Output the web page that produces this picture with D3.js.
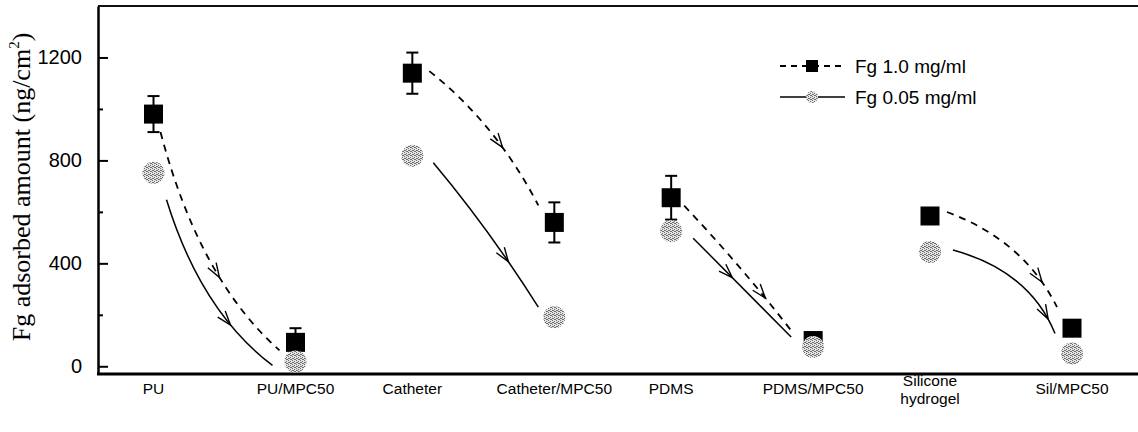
<!DOCTYPE html>
<html>
<head>
<meta charset="utf-8">
<script src="https://cdn.jsdelivr.net/npm/d3@7"></script>
<style>
  html, body { margin: 0; padding: 0; background: #fff; }
  svg { display: block; }
</style>
</head>
<body>
<svg id="chart" width="1138" height="432"></svg>
<script>
// Fibrinogen adsorption on untreated and MPC-treated surfaces
const categories = ["PU", "PU/MPC50", "Catheter", "Catheter/MPC50", "PDMS", "PDMS/MPC50", "Silicone\nhydrogel", "Sil/MPC50"];
const groups = ["PU", "Catheter", "PDMS", "Silicone"];
const fgHigh = [980, 93, 1139, 559, 655, 100, 584, 148];      // Fg 1.0 mg/ml
const fgHighErr = [70, 55, 80, 78, 85, 30, 0, 0];
const fgLow = [752, 19, 818, 191, 525, 75, 444, 50];           // Fg 0.05 mg/ml
const yTicks = [0, 400, 800, 1200];
const yMinorTicks = [200, 600, 1000];
const seriesNames = ["Fg 1.0 mg/ml", "Fg 0.05 mg/ml"];

// Trend arrows from each untreated surface to its MPC-treated counterpart
const arrows = [
  { pair: 0, series: "high", s: [7, 18],  e: [-16, 8],   bend: -0.35, at: 0.58 },
  { pair: 0, series: "low",  s: [13, 27], e: [-23, 4],   bend: -0.35, at: 0.68 },
  { pair: 1, series: "high", s: [17, -2], e: [-16, -17], bend: 0.22,  at: 0.62 },
  { pair: 1, series: "low",  s: [21, 7],  e: [-16, -10], bend: 0.07,  at: 0.7 },
  { pair: 2, series: "high", s: [13, 8],  e: [-22, -10], bend: 0.05,  at: 0.75 },
  { pair: 2, series: "low",  s: [22, 7],  e: [-22, -10], bend: 0.0,   at: 0.4 },
  { pair: 3, series: "high", s: [17, -4], e: [-15, -21], bend: 0.4,   at: 0.8 },
  { pair: 3, series: "low",  s: [23, -2], e: [-17, -20], bend: 0.5,   at: 0.88 }
];

const svg = d3.select("#chart");
svg.append("rect").attr("width", 1138).attr("height", 432).attr("fill", "#fff");

// stipple texture for the 0.05 mg/ml markers
const defs = svg.append("defs");
const pat = defs.append("pattern").attr("id", "stipple")
  .attr("width", 4).attr("height", 4).attr("patternUnits", "userSpaceOnUse");
pat.append("rect").attr("width", 4).attr("height", 4).attr("fill", "#e4e4e4");
[[0, 0], [2, 1], [1, 2], [3, 3], [2, 3], [0, 2]].forEach(([px, py]) =>
  pat.append("rect").attr("x", px).attr("y", py).attr("width", 1).attr("height", 1).attr("fill", "#6e6e6e"));

const plotLeft = 98, plotRight = 1138, plotTop = 6, plotBottom = 374;

const y = d3.scaleLinear().domain([-30, 1400]).range([plotBottom, plotTop]);
const xGroup = d3.scalePoint().domain(groups).range([224.5, 1001]);
const xPair = d3.scalePoint().domain([0, 1]).range([-71, 71]);
const x = i => xGroup(groups[Math.floor(i / 2)]) + xPair(i % 2);

// frame: top border and x axis line
svg.append("line").attr("x1", plotLeft).attr("x2", plotRight).attr("y1", plotTop).attr("y2", plotTop)
  .attr("stroke", "#111").attr("stroke-width", 2);
svg.append("line").attr("x1", plotLeft - 1).attr("x2", plotRight).attr("y1", plotBottom).attr("y2", plotBottom)
  .attr("stroke", "#000").attr("stroke-width", 3);

// y axis, ticks pointing inward
const yAxis = svg.append("g").attr("transform", `translate(${plotLeft},0)`)
  .call(d3.axisLeft(y).tickValues(yTicks).tickSize(-10).tickSizeOuter(0).tickPadding(16).tickFormat(d3.format("d")));
yAxis.select(".domain").attr("stroke-width", 2.5);
yAxis.selectAll(".tick line").attr("stroke-width", 2);
yAxis.selectAll(".tick text")
  .attr("font-family", "'Liberation Sans', Arial, sans-serif")
  .attr("font-size", 20).attr("fill", "#000");
const yMinor = svg.append("g").attr("transform", `translate(${plotLeft},0)`)
  .call(d3.axisLeft(y).tickValues(yMinorTicks).tickSize(-5).tickSizeOuter(0).tickFormat(""));
yMinor.select(".domain").remove();
yMinor.selectAll(".tick line").attr("stroke-width", 2);

// y axis title
const yTitle = svg.append("text")
  .attr("transform", "translate(30,187) rotate(-90)")
  .attr("text-anchor", "middle")
  .attr("font-family", "'Liberation Serif', 'Times New Roman', serif")
  .attr("font-size", 26).attr("fill", "#000");
yTitle.append("tspan").text("Fg adsorbed amount (ng/cm");
yTitle.append("tspan").attr("font-size", 15).attr("dy", -11).text("2");
yTitle.append("tspan").attr("dy", 11).text(")");

// category labels
const xl = svg.append("g").attr("font-family", "'Liberation Sans', Arial, sans-serif")
  .attr("font-size", 15.5).attr("fill", "#000").attr("text-anchor", "middle");
categories.forEach((c, i) => {
  const lines = c.split("\n");
  const t = xl.append("text").attr("x", x(i)).attr("y", lines.length > 1 ? 386 : 394);
  lines.forEach((ln, k) => t.append("tspan").attr("x", x(i)).attr("dy", k ? 18 : 0).text(ln));
});

// arrows
function quad(S, C, E, t) {
  const u = 1 - t;
  return [u * u * S[0] + 2 * u * t * C[0] + t * t * E[0], u * u * S[1] + 2 * u * t * C[1] + t * t * E[1]];
}
const arrowG = svg.append("g").attr("fill", "none").attr("stroke", "#000");
arrows.forEach(a => {
  const vals = a.series === "high" ? fgHigh : fgLow;
  const i0 = a.pair * 2, i1 = i0 + 1;
  const S = [x(i0) + a.s[0], y(vals[i0]) + a.s[1]];
  const E = [x(i1) + a.e[0], y(vals[i1]) + a.e[1]];
  const dx = E[0] - S[0], dy = E[1] - S[1];
  const C = [(S[0] + E[0]) / 2 + a.bend * dx / 2, (S[1] + E[1]) / 2 - a.bend * dy / 2];
  const p = d3.path();
  p.moveTo(S[0], S[1]);
  p.quadraticCurveTo(C[0], C[1], E[0], E[1]);
  arrowG.append("path").attr("d", p.toString())
    .attr("stroke-width", a.series === "high" ? 1.8 : 1.5)
    .attr("stroke-dasharray", a.series === "high" ? "7,6" : null);
  // open arrowhead along the curve
  const t = a.at;
  const P = quad(S, C, E, t);
  const u = 1 - t;
  const tg = [2 * u * (C[0] - S[0]) + 2 * t * (E[0] - C[0]), 2 * u * (C[1] - S[1]) + 2 * t * (E[1] - C[1])];
  const ang = Math.atan2(tg[1], tg[0]);
  const len = 15, spread = 0.33;
  const h = d3.path();
  h.moveTo(P[0] - len * Math.cos(ang - spread), P[1] - len * Math.sin(ang - spread));
  h.lineTo(P[0], P[1]);
  h.lineTo(P[0] - len * Math.cos(ang + spread), P[1] - len * Math.sin(ang + spread));
  arrowG.append("path").attr("d", h.toString()).attr("stroke-width", 1.4);
});

// error bars for the 1.0 mg/ml series
const eb = svg.append("g").attr("stroke", "#000").attr("stroke-width", 2);
fgHigh.forEach((v, i) => {
  const e = fgHighErr[i];
  if (!e) return;
  eb.append("line").attr("x1", x(i)).attr("x2", x(i)).attr("y1", y(v - e)).attr("y2", y(v + e));
  [v - e, v + e].forEach(w => eb.append("line")
    .attr("x1", x(i) - 6).attr("x2", x(i) + 6).attr("y1", y(w)).attr("y2", y(w)));
});

// markers
const sq = 19;
svg.append("g").selectAll("rect").data(fgHigh).join("rect")
  .attr("x", (d, i) => x(i) - sq / 2).attr("y", d => y(d) - sq / 2)
  .attr("width", sq).attr("height", sq).attr("fill", "#000");
svg.append("g").selectAll("circle").data(fgLow).join("circle")
  .attr("cx", (d, i) => x(i)).attr("cy", d => y(d)).attr("r", 11)
  .attr("fill", "url(#stipple)");

// legend
const lg = svg.append("g").attr("font-family", "'Liberation Sans', Arial, sans-serif")
  .attr("font-size", 19).attr("fill", "#000");
const legendRows = [66, 97];
seriesNames.forEach((name, k) => {
  const ly = legendRows[k];
  lg.append("line").attr("x1", 780).attr("x2", 845).attr("y1", ly).attr("y2", ly)
    .attr("stroke", "#000").attr("stroke-width", k ? 1.5 : 1.8)
    .attr("stroke-dasharray", k ? null : "6,5");
  if (k === 0) {
    lg.append("rect").attr("x", 812 - 6).attr("y", ly - 6).attr("width", 12).attr("height", 12).attr("fill", "#000");
  } else {
    lg.append("circle").attr("cx", 812).attr("cy", ly).attr("r", 6).attr("fill", "url(#stipple)");
  }
  lg.append("text").attr("x", 855).attr("y", ly + 7).text(name);
});
</script>
</body>
</html>
